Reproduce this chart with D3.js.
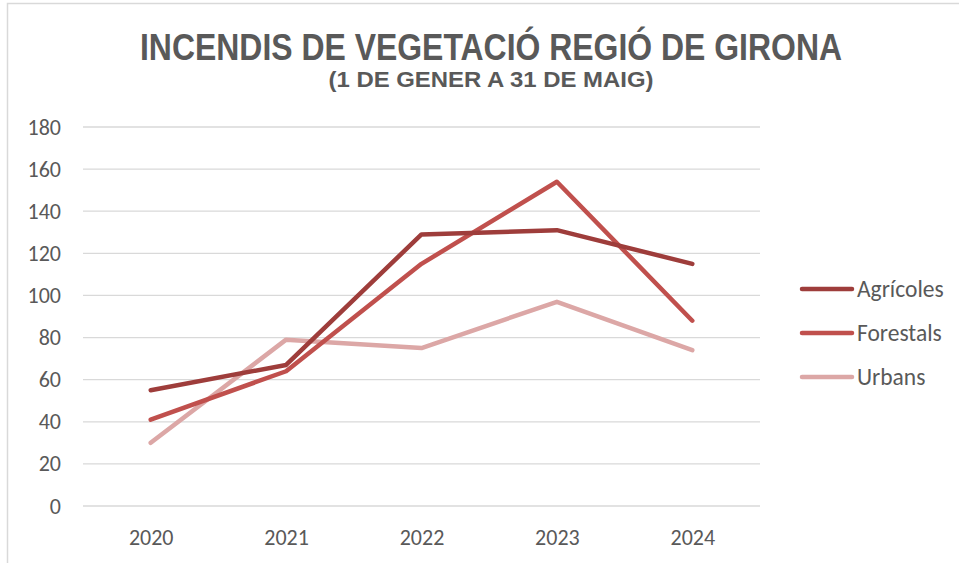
<!DOCTYPE html>
<html>
<head>
<meta charset="utf-8">
<script src="https://cdn.jsdelivr.net/npm/d3@7"></script>
<style>
  body { margin: 0; background: #fff; }
  text { fill: #595959; }
</style>
</head>
<body>
<div id="chart"></div>
<script>
// Data
const years = ["2020", "2021", "2022", "2023", "2024"]
const agricoles = [55, 67, 129, 131, 115]
const forestals = [41, 64, 115, 154, 88]
const urbans = [30, 79, 75, 97, 74]
const seriesNames = ["Agrícoles", "Forestals", "Urbans"]
const yTicks = [0, 20, 40, 60, 80, 100, 120, 140, 160, 180]

const width = 959
const height = 563
const plot = { left: 83, right: 760, top: 127, bottom: 506 }
const colors = ["#9e3d3b", "#c0504d", "#dca7a6"]
const tickFont = "Carlito, 'Open Sans', 'Liberation Sans', sans-serif"

const svg = d3.select("#chart")
              .append("svg")
              .attr("width", width)
              .attr("height", height)

// Chart border (only top and left are inside the picture)
svg.append("path")
   .attr("d", `M7.5,${height} V3.5 H${width}`)
   .attr("fill", "none")
   .attr("stroke", "#d9d9d9")
   .attr("stroke-width", 1.5)

const x = d3.scalePoint()
            .domain(years)
            .range([plot.left, plot.right])
            .padding(0.5)

const y = d3.scaleLinear()
            .domain([0, 180])
            .range([plot.bottom, plot.top])

// Gridlines
svg.append("g")
   .selectAll("line")
   .data(yTicks)
   .enter()
   .append("line")
   .attr("x1", plot.left)
   .attr("x2", plot.right)
   .attr("y1", d => y(d))
   .attr("y2", d => y(d))
   .attr("stroke", "#d9d9d9")
   .attr("stroke-width", 1.3)

// Y axis labels
const yAxis = d3.axisLeft(y).tickValues(yTicks).tickSize(0).tickPadding(22)
svg.append("g")
   .attr("transform", `translate(${plot.left},0)`)
   .call(yAxis)
   .call(g => g.select(".domain").remove())
   .selectAll("text")
   .attr("font-family", tickFont)
   .attr("font-size", 22)
   .attr("fill", "#595959")

// X axis labels
const xAxis = d3.axisBottom(x).tickSize(0).tickPadding(23)
svg.append("g")
   .attr("transform", `translate(0,${plot.bottom})`)
   .call(xAxis)
   .call(g => g.select(".domain").remove())
   .selectAll("text")
   .attr("font-family", tickFont)
   .attr("font-size", 22)
   .attr("fill", "#595959")

// Lines
const allSeries = [agricoles, forestals, urbans]
const line = d3.line()
               .x((d, i) => x(years[i]))
               .y(d => y(d))

svg.append("g")
   .selectAll("path")
   .data(allSeries.slice().reverse())
   .enter()
   .append("path")
   .attr("d", line)
   .attr("fill", "none")
   .attr("stroke", (d, i) => colors[2 - i])
   .attr("stroke-width", 4.5)
   .attr("stroke-linecap", "round")
   .attr("stroke-linejoin", "round")

// Legend
const legend = svg.append("g")
                  .attr("transform", "translate(800,289)")
const legendItem = legend.selectAll("g")
                         .data(seriesNames)
                         .enter()
                         .append("g")
                         .attr("transform", (d, i) => `translate(0,${i * 44})`)
legendItem.append("line")
          .attr("x1", 2)
          .attr("x2", 52)
          .attr("stroke", (d, i) => colors[i])
          .attr("stroke-width", 4.5)
          .attr("stroke-linecap", "round")
legendItem.append("text")
          .attr("x", 57)
          .attr("dy", "0.35em")
          .attr("font-family", tickFont)
          .attr("font-size", 23.5)
          .attr("fill", "#595959")
          .text(d => d)

// Titles
svg.append("text")
   .attr("x", 491)
   .attr("y", 60)
   .attr("text-anchor", "middle")
   .attr("font-family", "'Liberation Sans Narrow', 'Arial Narrow', 'Liberation Sans', sans-serif")
   .attr("font-weight", "bold")
   .attr("font-size", 36)
   .attr("textLength", 702)
   .attr("lengthAdjust", "spacingAndGlyphs")
   .text("INCENDIS DE VEGETACIÓ REGIÓ DE GIRONA")

svg.append("text")
   .attr("x", 491)
   .attr("y", 87)
   .attr("text-anchor", "middle")
   .attr("font-family", "'Liberation Sans Narrow', 'Arial Narrow', 'Liberation Sans', sans-serif")
   .attr("font-weight", "bold")
   .attr("font-size", 22)
   .attr("textLength", 325)
   .attr("lengthAdjust", "spacingAndGlyphs")
   .text("(1 DE GENER A 31 DE MAIG)")
</script>
</body>
</html>
